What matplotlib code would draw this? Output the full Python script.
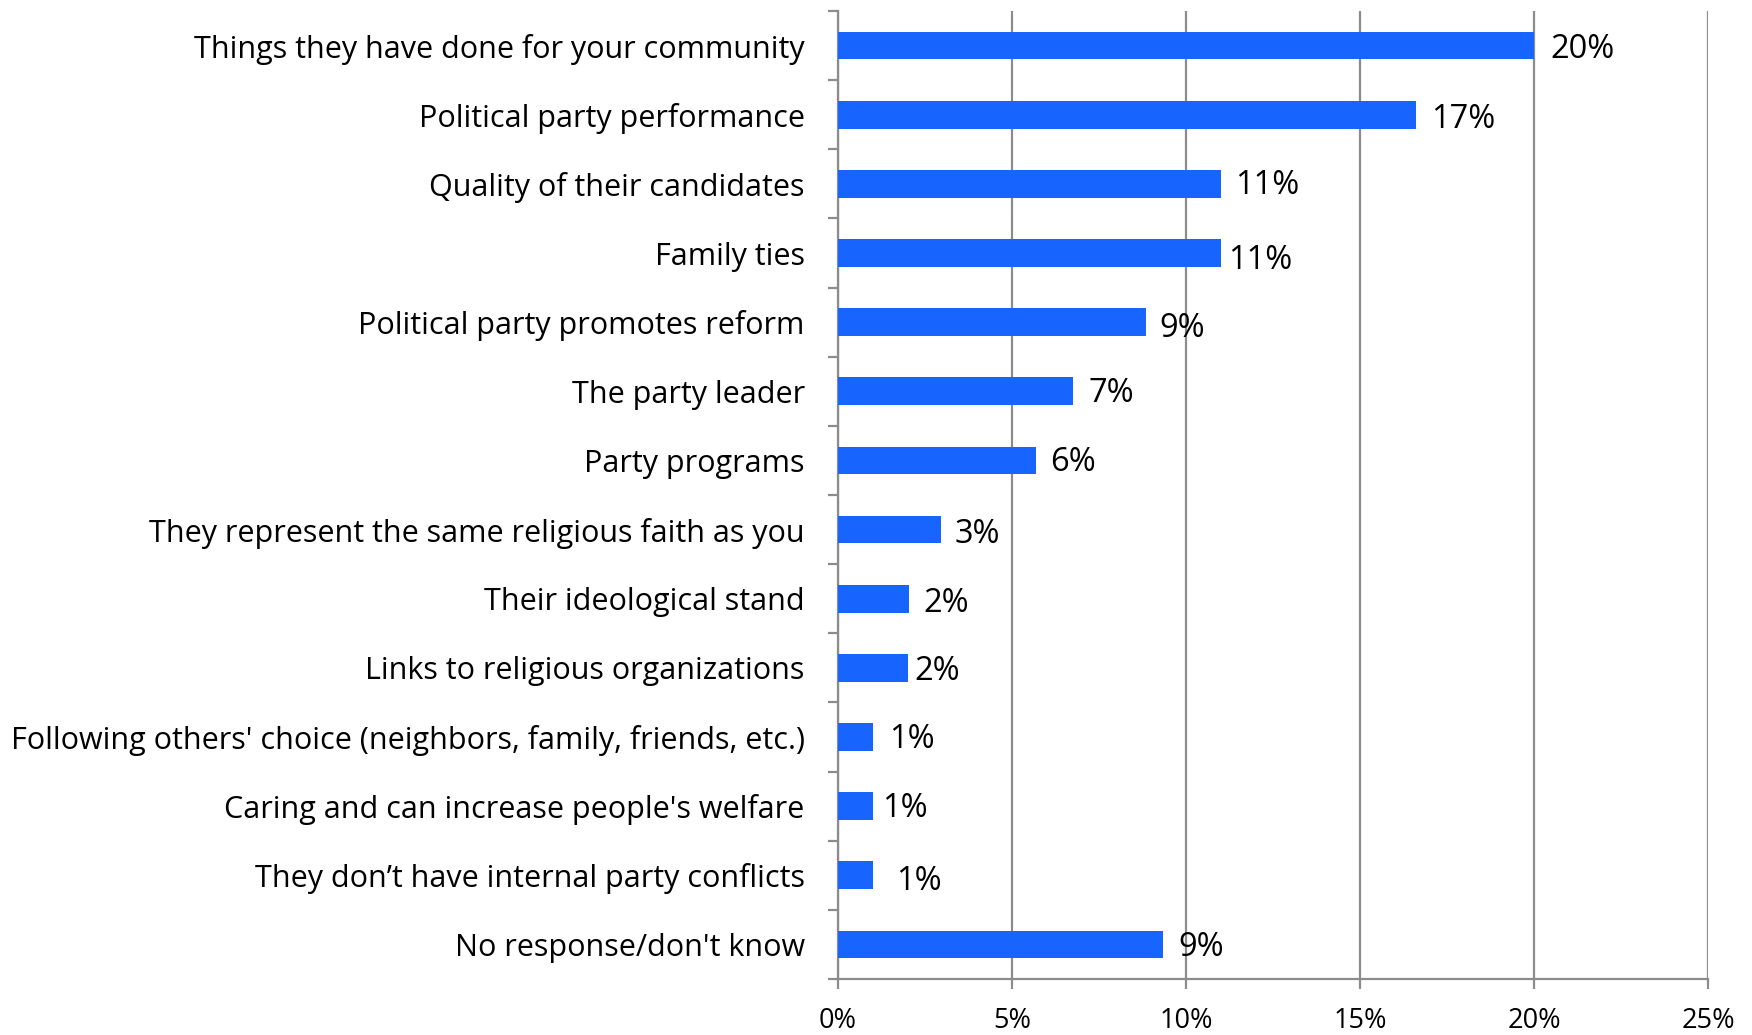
import matplotlib
matplotlib.use("Agg")
import matplotlib.pyplot as plt
from matplotlib.ticker import FixedLocator, PercentFormatter

categories = [
    "Things they have done for your community",
    "Political party performance",
    "Quality of their candidates",
    "Family ties",
    "Political party promotes reform",
    "The party leader",
    "Party programs",
    "They represent the same religious faith as you",
    "Their ideological stand",
    "Links to religious organizations",
    "Following others' choice (neighbors, family, friends, etc.)",
    "Caring and can increase people's welfare",
    "They don\u2019t have internal party conflicts",
    "No response/don't know",
]
values = [20.0, 16.6, 11.0, 11.0, 8.85, 6.75, 5.7, 2.95, 2.05, 2.0, 1.0, 1.0, 1.0, 9.35]
labels = ["20%", "17%", "11%", "11%", "9%", "7%", "6%", "3%", "2%", "2%", "1%", "1%", "1%", "9%"]
xticks = [0, 5, 10, 15, 20, 25]

# label offsets (points) relative to bar end, to mimic manual placement
label_dx = [12, 11, 10, 5, 10, 11, 10, 10, 10, 5, 12, 7, 17, 11]
label_dy = [-2.5, -3.5, -1.5, -5.5, -4.5, -1.5, -1.5, -3.5, -3.5, -2.5, -1.5, -1.5, -4.5, -2.5]

FONT = "Open Sans"
BLUE = "#1764FF"
GRID = "#8C8C8C"

fig = plt.figure(figsize=(17.52, 10.35), dpi=100)
ax = fig.add_axes([838 / 1752, 56 / 1035, (1708 - 838) / 1752, (1024 - 56) / 1035])

y = list(range(len(categories)))
ax.barh(y, values, height=0.4, color=BLUE, zorder=3)

ax.set_xlim(0, 25)
ax.set_ylim(len(categories) - 0.5, -0.5)

ax.xaxis.set_major_locator(FixedLocator(xticks))
ax.xaxis.set_major_formatter(PercentFormatter(decimals=0))
ax.grid(axis="x", color=GRID, linewidth=1.6, zorder=0)

ax.set_yticks(y)
ax.set_yticklabels(categories)
ax.set_yticks([i - 0.5 for i in range(len(categories) + 1)], minor=True)
ax.tick_params(axis="y", which="major", length=0, pad=24, labelsize=22)
ax.tick_params(axis="y", which="minor", length=7, width=1.6, color=GRID, direction="out")
ax.tick_params(axis="x", which="major", length=7, width=1.6, color=GRID, direction="out",
               pad=13, labelsize=19.5)

for lbl in ax.get_yticklabels() + ax.get_xticklabels():
    lbl.set_fontfamily(FONT)

for s in ["top", "right"]:
    ax.spines[s].set_visible(False)
for s in ["left", "bottom"]:
    ax.spines[s].set_color(GRID)
    ax.spines[s].set_linewidth(1.6)

for i, (v, t) in enumerate(zip(values, labels)):
    ax.annotate(t, xy=(v, i), xytext=(label_dx[i], label_dy[i]), textcoords="offset points",
                ha="left", va="center", fontsize=23.5, fontfamily=FONT, color="black")

fig.savefig("out.png", dpi=100)
